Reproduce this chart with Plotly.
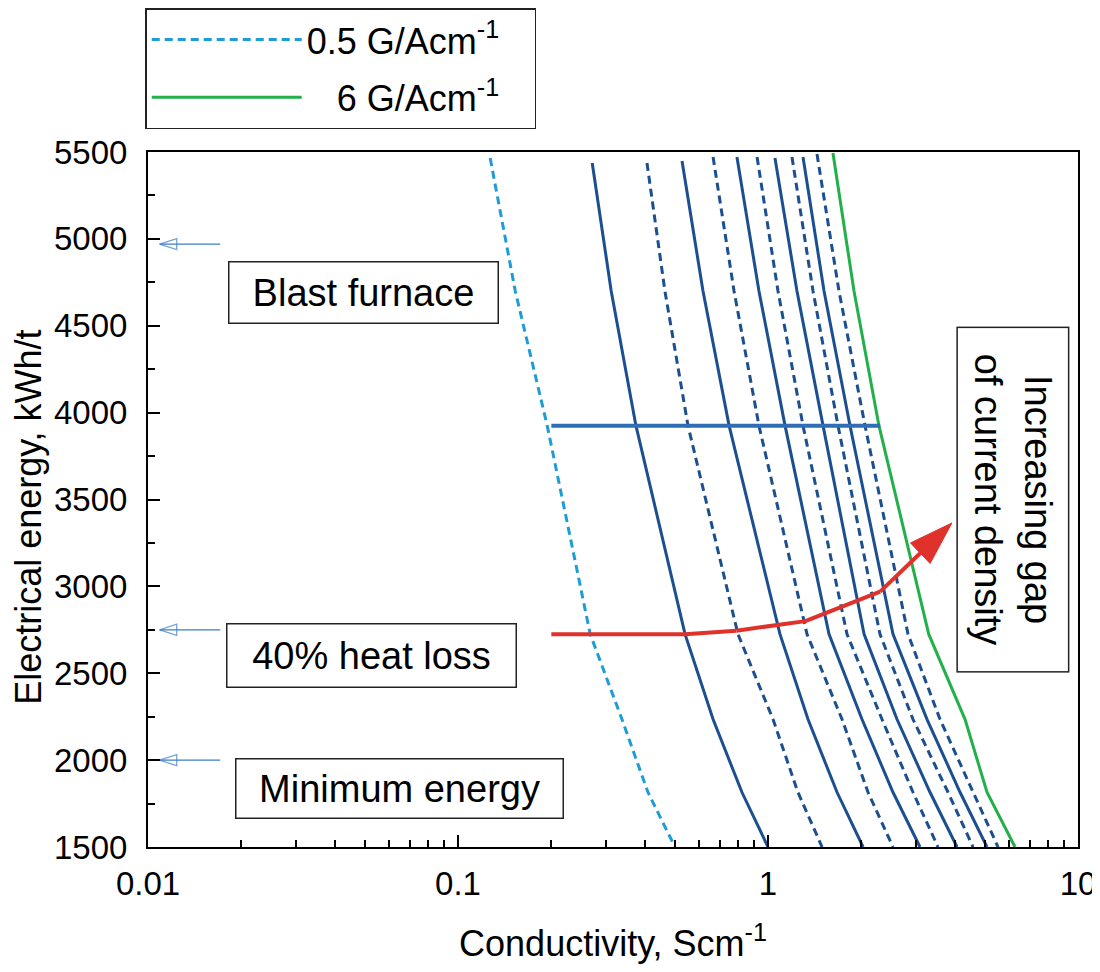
import plotly.graph_objects as go

# Current density of each curve (G/Acm^-1); dashed curves are the half steps
current_density = [0.5, 1, 1.5, 2, 2.5, 3, 3.5, 4, 4.5, 5, 5.5, 6]

# Top end of each curve
top_energy = [5465, 5437, 5437, 5448, 5471, 5471, 5471, 5465, 5471, 5471, 5488, 5494]
top_cond = [0.127, 0.271, 0.407, 0.528, 0.665, 0.794, 0.922, 1.053, 1.195, 1.297, 1.439, 1.620]

# Energy levels (kWh/t) where the curves were read below the top end
energy_levels = [4700, 3925, 2725, 2235, 1815, 1500]

# Conductivity (Scm^-1) of each curve at those energy levels
cond_05 = [0.153, 0.194, 0.267, 0.338, 0.410, 0.501]
cond_10 = [0.312, 0.375, 0.540, 0.665, 0.824, 1.000]
cond_15 = [0.465, 0.552, 0.800, 1.038, 1.249, 1.494]
cond_20 = [0.617, 0.749, 1.093, 1.346, 1.670, 2.026]
cond_25 = [0.777, 0.935, 1.336, 1.733, 2.102, 2.530]
cond_30 = [0.935, 1.135, 1.573, 2.010, 2.530, 3.092]
cond_35 = [1.077, 1.297, 1.798, 2.332, 2.936, 3.535]
cond_40 = [1.240, 1.505, 2.041, 2.607, 3.331, 4.072]
cond_45 = [1.397, 1.682, 2.297, 2.936, 3.808, 4.585]
cond_50 = [1.516, 1.839, 2.530, 3.258, 4.164, 5.087]
cond_55 = [1.694, 2.056, 2.829, 3.588, 4.585, 5.521]
cond_60 = [1.894, 2.280, 3.300, 4.321, 5.087, 6.263]

curve_conds = [cond_05, cond_10, cond_15, cond_20, cond_25, cond_30,
               cond_35, cond_40, cond_45, cond_50, cond_55, cond_60]

# Horizontal blue line at fixed energy
hline_cond = [0.2, 2.3]
hline_energy = [3925, 3925]

# Red path, last point is the arrow tip
red_cond = [0.2, 0.54, 0.79, 1.32, 2.3, 3.92]
red_energy = [2725, 2725, 2745, 2800, 2970, 3365]

# Reference energies marked with small arrows next to the y axis
ref_energy = [4970, 2750, 2000]
ref_cond = [0.0171, 0.0109]  # tail, tip

DARK_BLUE = "#1B4F8F"
LIGHT_BLUE = "#1E9CD6"
GREEN = "#22B04B"
RED = "#E0312B"
SP = "\u00a0"

fig = go.Figure()

for i, (j, conds) in enumerate(zip(current_density, curve_conds)):
    xs = [top_cond[i]] + conds
    ys = [top_energy[i]] + energy_levels
    if i == 0:
        line = dict(color=LIGHT_BLUE, width=3, dash="8px,5px")
        name, show = "0.5 G/Acm<sup>-1</sup>" + SP * 3, True
    elif i == len(current_density) - 1:
        line = dict(color=GREEN, width=3)
        name, show = SP * 3 + "6 G/Acm<sup>-1</sup>" + SP * 3, True
    else:
        dashed = (j * 2) % 2 == 1
        line = dict(color=DARK_BLUE, width=3, dash="8px,5px" if dashed else "solid")
        name, show = f"{j} G/Acm-1", False
    fig.add_trace(go.Scatter(x=xs, y=ys, mode="lines", line=line,
                             name=name, showlegend=show, legendgroup=name))

fig.add_trace(go.Scatter(x=hline_cond, y=hline_energy, mode="lines",
                         line=dict(color="#2F6EB5", width=4), showlegend=False))

red_sizes = [0] * (len(red_cond) - 1) + [46]
fig.add_trace(go.Scatter(x=red_cond, y=red_energy, mode="lines+markers",
                         line=dict(color=RED, width=4),
                         marker=dict(symbol="arrow", size=red_sizes, angleref="previous",
                                     color=RED, opacity=1, line=dict(width=1, color=RED)),
                         showlegend=False))

for e in ref_energy:
    fig.add_trace(go.Scatter(x=ref_cond, y=[e, e], mode="lines+markers",
                             line=dict(color="#3C7DC4", width=1.3),
                             marker=dict(symbol="arrow-open", size=[0, 18],
                                         angleref="previous", color="#3C7DC4",
                                         line=dict(width=1.3, color="#3C7DC4")),
                             showlegend=False))

box_style = dict(showarrow=False, bordercolor="#222", borderwidth=1.5, borderpad=4,
                 bgcolor="white", font=dict(size=38, color="black"), xref="x", yref="y")
fig.add_annotation(x=-1.306, y=4692, text="Blast furnace", width=260, height=52, **box_style)
fig.add_annotation(x=-1.280, y=2600, text="40% heat loss", width=280, height=54, **box_style)
fig.add_annotation(x=-1.190, y=1835, text="Minimum energy", width=318, height=50, **box_style)
fig.add_annotation(x=0.790, y=3500, text="Increasing gap<br>of current density",
                   width=335, height=102, textangle=90, **box_style)

# y axis title as a rotated annotation (axis title misplaces with autoexpand off)
fig.add_annotation(x=-0.128, y=0.475, xref="paper", yref="paper", showarrow=False,
                   xanchor="center", yanchor="middle",
                   text="Electrical energy, kWh/t", textangle=-90,
                   font=dict(size=36, color="black"))

fig.update_xaxes(type="log", range=[-2, 1], tickvals=[0.01, 0.1, 1, 10],
                 ticktext=["0.01", "0.1", "1", "10"],
                 ticks="inside", ticklen=12, tickwidth=2, tickcolor="black",
                 minor=dict(ticks="inside", ticklen=7, tickwidth=1.5, tickcolor="black",
                            dtick="D1", showgrid=False),
                 showline=True, linecolor="black", linewidth=2, mirror=True,
                 showgrid=False, zeroline=False, ticklabelstandoff=6,
                 title=dict(text="Conductivity, Scm<sup>-1</sup>", font=dict(size=36),
                            standoff=30))
fig.update_yaxes(range=[1500, 5500], tick0=1500, dtick=500,
                 ticks="inside", ticklen=12, tickwidth=2, tickcolor="black",
                 minor=dict(ticks="inside", ticklen=7, tickwidth=1.5, tickcolor="black",
                            dtick=250, showgrid=False),
                 showline=True, linecolor="black", linewidth=2, mirror=True,
                 showgrid=False, zeroline=False, ticklabelstandoff=12)

# the page adds an 8 px body margin, so the figure is 8 px smaller than the window
fig.update_layout(
    width=1092, height=964,
    margin=dict(l=140, r=22, t=144, b=125, autoexpand=False),
    plot_bgcolor="white", paper_bgcolor="white",
    font=dict(family="Liberation Sans, Arial, sans-serif", size=33, color="black"),
    legend=dict(x=-0.003, y=1.207, xanchor="left", yanchor="top",
                bordercolor="#222", borderwidth=1.5, bgcolor="white",
                font=dict(size=36), itemwidth=150, tracegroupgap=8),
)

fig.write_html("out.html")
